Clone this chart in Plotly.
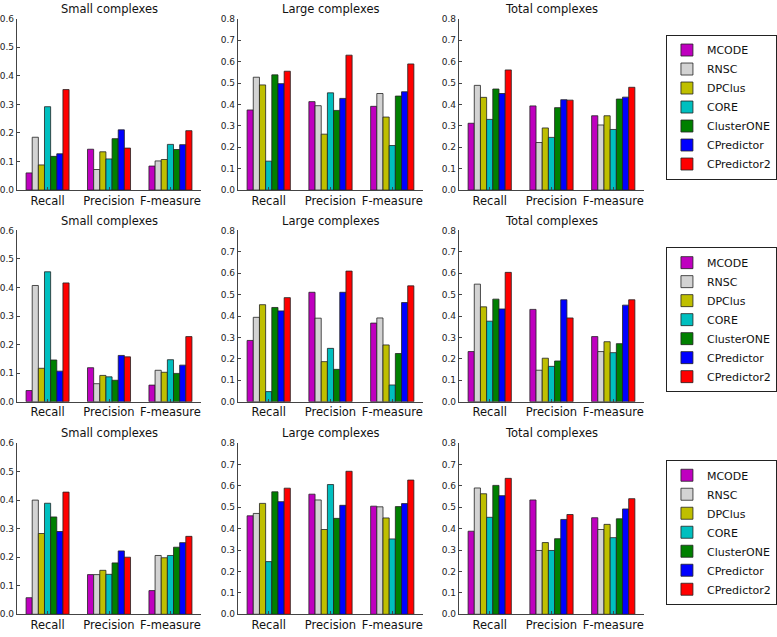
import plotly.graph_objects as go

methods = ["MCODE", "RNSC", "DPClus", "CORE", "ClusterONE", "CPredictor", "CPredictor2"]
colors = ["#BF00BF", "#D3D3D3", "#BFBF00", "#00BFBF", "#008000", "#0000FF", "#FF0000"]
metrics = ["Recall", "Precision", "F-measure"]
titles = ["Small complexes", "Large complexes", "Total complexes"]

# values per panel: [recall per method, precision per method, F-measure per method]
row1_small = [[0.060, 0.185, 0.088, 0.292, 0.118, 0.127, 0.352],
              [0.143, 0.072, 0.134, 0.109, 0.180, 0.211, 0.147],
              [0.084, 0.102, 0.107, 0.160, 0.142, 0.159, 0.208]]
row1_large = [[0.374, 0.527, 0.491, 0.135, 0.538, 0.497, 0.555],
              [0.413, 0.394, 0.261, 0.454, 0.372, 0.428, 0.630],
              [0.391, 0.451, 0.341, 0.208, 0.439, 0.459, 0.589]]
row1_total = [[0.312, 0.489, 0.433, 0.330, 0.472, 0.451, 0.561],
              [0.393, 0.222, 0.290, 0.246, 0.385, 0.422, 0.420],
              [0.347, 0.304, 0.347, 0.283, 0.425, 0.434, 0.480]]
row2_small = [[0.039, 0.407, 0.117, 0.455, 0.146, 0.107, 0.416],
              [0.119, 0.063, 0.092, 0.087, 0.075, 0.162, 0.157],
              [0.058, 0.110, 0.103, 0.147, 0.099, 0.128, 0.228]]
row2_large = [[0.286, 0.394, 0.453, 0.047, 0.440, 0.424, 0.486],
              [0.511, 0.390, 0.187, 0.249, 0.151, 0.511, 0.610],
              [0.367, 0.391, 0.265, 0.078, 0.225, 0.463, 0.541]]
row2_total = [[0.234, 0.549, 0.443, 0.376, 0.479, 0.433, 0.604],
              [0.431, 0.147, 0.203, 0.165, 0.190, 0.476, 0.391],
              [0.304, 0.234, 0.280, 0.229, 0.271, 0.451, 0.476]]
row3_small = [[0.058, 0.400, 0.283, 0.389, 0.341, 0.290, 0.428],
              [0.139, 0.139, 0.154, 0.140, 0.180, 0.222, 0.200],
              [0.083, 0.206, 0.198, 0.206, 0.235, 0.251, 0.273]]
row3_large = [[0.460, 0.471, 0.518, 0.246, 0.572, 0.526, 0.589],
              [0.561, 0.534, 0.396, 0.606, 0.448, 0.509, 0.668],
              [0.505, 0.502, 0.450, 0.352, 0.503, 0.517, 0.627]]
row3_total = [[0.388, 0.590, 0.563, 0.453, 0.602, 0.554, 0.635],
              [0.534, 0.298, 0.335, 0.298, 0.353, 0.443, 0.466],
              [0.451, 0.396, 0.420, 0.358, 0.446, 0.492, 0.540]]

panels = [[row1_small, row1_large, row1_total],
          [row2_small, row2_large, row2_total],
          [row3_small, row3_large, row3_total]]
ymax = [0.6, 0.8, 0.8]

W, H = 777, 637
col_x = [(17, 203), (240, 427), (463, 650)]
row_y = [(14, 188), (229, 403), (445, 619)]
legend_mid = [100, 316, 532]
legend_h = 140

fig = go.Figure()
layout = dict(width=W, height=H, margin=dict(l=0, r=0, t=0, b=0),
              paper_bgcolor="white", plot_bgcolor="white",
              barmode="group", bargap=0.3, bargroupgap=0,
              font=dict(family="DejaVu Sans", color="#222"),
              annotations=[])

axis_style = dict(showline=True, linecolor="#444", linewidth=1, mirror=False,
                  showgrid=False, zeroline=False, ticks="inside", ticklen=3,
                  tickcolor="#444")

idx = 0
for r in range(3):
    lname = "legend" if r == 0 else f"legend{r + 1}"
    for c in range(3):
        idx += 1
        sfx = "" if idx == 1 else str(idx)
        data = panels[r][c]
        for m in range(7):
            fig.add_trace(go.Bar(
                x=metrics, y=[data[k][m] for k in range(3)], name=methods[m],
                marker=dict(color=colors[m], line=dict(color="#222", width=0.8)),
                xaxis="x" + sfx, yaxis="y" + sfx,
                legend=lname, showlegend=(c == 0),
            ))
        x0, x1 = col_x[c]
        y0, y1 = row_y[r]
        layout["xaxis" + sfx] = dict(domain=[x0 / W, x1 / W], anchor="y" + sfx,
                                     type="category", range=[-0.5, 2.5],
                                     tickfont=dict(size=11.5, color="#111"), **axis_style)
        layout["yaxis" + sfx] = dict(domain=[1 - y1 / H, 1 - y0 / H], anchor="x" + sfx,
                                     range=[0, ymax[c]], dtick=0.1, tickformat=".1f",
                                     tickfont=dict(size=9, color="#222"), **axis_style)
        layout["annotations"].append(dict(
            text=titles[c], xref="paper", yref="paper",
            x=(x0 + x1) / 2 / W, y=1 - (y0 - 10) / H, xanchor="center", yanchor="middle",
            showarrow=False, font=dict(size=11.5, color="#111")))
    layout[lname] = dict(x=672 / W, y=1 - (legend_mid[r] - legend_h / 2) / H,
                         xanchor="left", yanchor="top",
                         bordercolor="#222", borderwidth=1, bgcolor="white",
                         font=dict(size=11, color="#111"), tracegroupgap=0,
                         itemwidth=30)

fig.update_layout(**layout)
fig.write_html("out.html", config={"displayModeBar": False},
               post_script="document.body.style.margin='0';")
